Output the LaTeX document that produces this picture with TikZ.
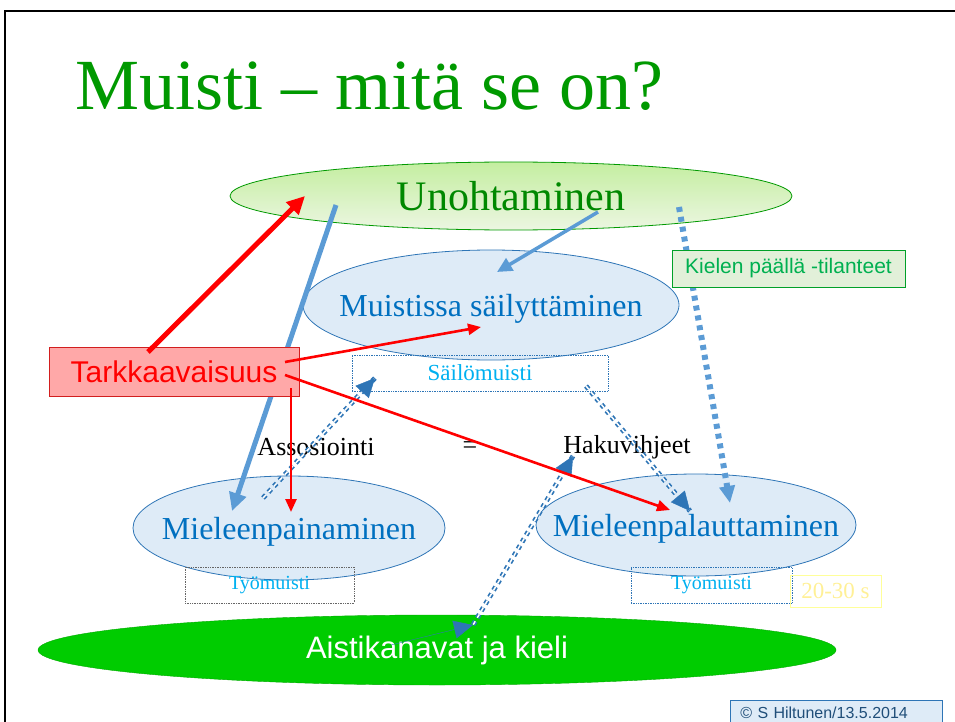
\documentclass[tikz,border=0pt]{standalone}
\usepackage{fontspec}
\setmainfont{Liberation Serif}
\setsansfont{Liberation Sans}
\usetikzlibrary{shapes.geometric,arrows.meta}

\definecolor{titlegreen}{RGB}{0,153,0}
\definecolor{ovalfill}{RGB}{222,235,247}
\definecolor{ovalline}{RGB}{46,117,182}
\definecolor{ovaltext}{RGB}{0,112,192}
\definecolor{arrowblue}{RGB}{91,155,213}
\definecolor{cueblue}{RGB}{46,117,182}
\definecolor{memotext}{RGB}{0,176,240}
\definecolor{pinkfill}{RGB}{255,168,168}
\definecolor{sensegreen}{RGB}{0,204,0}
\definecolor{tipfill}{RGB}{226,240,217}
\definecolor{tiptext}{RGB}{0,176,80}
\definecolor{paleyellow}{RGB}{255,240,150}
\definecolor{copytext}{RGB}{31,78,121}

\begin{document}
\begin{tikzpicture}[x=1pt,y=-1pt,
    oval/.style={ellipse, draw=ovalline, fill=ovalfill, line width=0.8pt, inner sep=0pt,
        text=ovaltext, text depth=0pt, font=\fontsize{32}{36}\selectfont},
    memobox/.style={draw=ovalline, densely dotted, line width=0.7pt, inner sep=0pt,
        text=memotext, font=\fontsize{20}{24}\selectfont},
    redarrow/.style={red, line width=2.6pt, -{Triangle[length=13pt,width=11pt]}},
    bluearrow/.style={arrowblue, line width=5pt, -{Triangle[length=18pt,width=17pt]}},
    cuearrow/.style={cueblue, line width=1.7pt, double=white, double distance=1.5pt,
        dash pattern=on 4pt off 4pt},
    cuetip/.style={-{Triangle[length=19pt,width=18pt]}}]
    \useasboundingbox (0,0) rectangle (955,722);
    % Draw slide frame
    \draw[line width=2.5pt] (5,722) -- (5,11) -- (955,11);
    % Title
    \node[anchor=base west, inner sep=0pt, text=titlegreen, font=\fontsize{72}{80}\selectfont]
        (title) at (75,110) {Muisti – mitä se on?};
    % Draw ovals
    \node[ellipse, draw=titlegreen, line width=0.8pt, top color={rgb,255:red,196;green,238;blue,160},
        bottom color={rgb,255:red,236;green,246;blue,226}, minimum width=562, minimum height=68,
        inner sep=0pt, text={rgb,255:red,0;green,136;blue,0}, font=\fontsize{42}{46}\selectfont]
        (uno) at (511,196) {\makebox[0pt]{Unohtaminen}};
    \node[oval, minimum width=376, minimum height=110] (mui) at (491,305) {\makebox[0pt]{Muistissa säilyttäminen}};
    \node[oval, minimum width=312, minimum height=104] (pai) at (289,528) {\makebox[0pt]{Mieleenpainaminen}};
    \node[oval, minimum width=320, minimum height=102] (pal) at (696,525) {\makebox[0pt]{Mieleenpalauttaminen}};
    \node[ellipse, draw={rgb,255:red,0;green,170;blue,0}, fill=sensegreen, minimum width=798,
        minimum height=70, inner sep=0pt, text=white, font=\sffamily\fontsize{31}{34}\selectfont]
        (ais) at (437,650) {\makebox[0pt]{Aistikanavat ja kieli}};
    % Memory boxes
    \node[memobox, minimum width=256, minimum height=36, font=\fontsize{23}{26}\selectfont]
        (sail) at (480,373) {Säilömuisti};
    \node[memobox, draw=gray!80!black, minimum width=169, minimum height=36] (tyo1) at (269.5,585) {Työmuisti};
    \node[memobox, minimum width=161, minimum height=36] (tyo2) at (711.5,585) {Työmuisti};
    \node[draw={rgb,255:red,255;green,255;blue,153}, line width=0.7pt, minimum width=91, minimum height=32,
        inner sep=0pt, text=paleyellow, font=\fontsize{23}{26}\selectfont] (sek) at (835.5,591) {20-30 s};
    % Words between the ovals
    \node[font=\fontsize{26}{29}\selectfont] (asso) at (316,447) {Assosiointi};
    \node[font=\fontsize{26}{29}\selectfont] (eq) at (470,448) {=};
    \node[font=\fontsize{26}{29}\selectfont] (haku) at (627,447) {Hakuvihjeet};
    % Blue arrows from forgetting
    \draw[bluearrow] ([shift={(-175,9)}]uno.center) -- ([shift={(-57,-17)}]pai.center);
    \draw[arrowblue, line width=3.5pt, -{Triangle[length=15pt,width=14pt]}]
        ([shift={(87,16)}]uno.center) -- ([shift={(6,-33)}]mui.center);
    \draw[arrowblue, line width=6pt, dash pattern=on 5pt off 5pt, -{Triangle[length=17pt,width=15pt]}]
        ([shift={(168,11)}]uno.center) -- ([shift={(34,-22)}]pal.center);
    % Cue arrows
    \draw[cuearrow] ([shift={(-26,-30)}]pai.center) -- ([shift={(-105,5)}]sail.center);
    \draw[cueblue, cuetip] ([shift={(-117,18)}]sail.center) -- ([shift={(-105,5)}]sail.center);
    \draw[cuearrow] ([shift={(106,13)}]sail.center) -- ([shift={(-6,-14)}]pal.center);
    \draw[cueblue, cuetip] ([shift={(-16,-26)}]pal.center) -- ([shift={(-6,-14)}]pal.center);
    \draw[cuearrow] ([shift={(-54,9)}]haku.center) -- ([shift={(36,-25)}]ais.center);
    \draw[cueblue, cuetip] ([shift={(-46,-5)}]ais.center) -- ([shift={(36,-25)}]ais.center);
    \draw[cueblue, cuetip] ([shift={(-62,23)}]haku.center) -- ([shift={(-54,9)}]haku.center);
    % Attention and tip-of-the-tongue boxes
    \node[draw={rgb,255:red,210;green,30;blue,30}, fill=pinkfill, line width=0.8pt, minimum width=250,
        minimum height=49, inner sep=0pt, text=red, font=\sffamily\fontsize{30}{34}\selectfont]
        (tark) at (174,371.5) {Tarkkaavaisuus};
    \node[draw={rgb,255:red,0;green,160;blue,40}, fill=tipfill, line width=0.8pt, minimum width=233,
        minimum height=37, inner sep=0pt, text=tiptext, font=\sffamily\fontsize{21}{24}\selectfont]
        (kiel) at (788.5,268.5) {Kielen päällä -tilanteet};
    % Red arrows from attention
    \draw[red, line width=5pt, -{Triangle[length=18pt,width=17pt]}]
        ([shift={(-26,-19.5)}]tark.center) -- ([shift={(-206,0)}]uno.center);
    \draw[redarrow] ([shift={(111,-9.5)}]tark.center) -- ([shift={(-10,22)}]mui.center);
    \draw[redarrow] ([shift={(111,3.5)}]tark.center) -- ([shift={(-26,-15)}]pal.center);
    \draw[redarrow] ([shift={(117,16.5)}]tark.center) -- ([shift={(2,-16)}]pai.center);
    % Copyright box
    \node[draw=ovalline, fill=ovalfill, line width=0.8pt, anchor=north west, text width=192pt,
        align=left, text height=12pt, text depth=4pt, inner xsep=10pt, inner ysep=6pt,
        text=copytext, font=\sffamily\fontsize{16}{18}\selectfont]
        (copy) at (730,700) {© S Hiltunen/13.5.2014};
\end{tikzpicture}
\end{document}
